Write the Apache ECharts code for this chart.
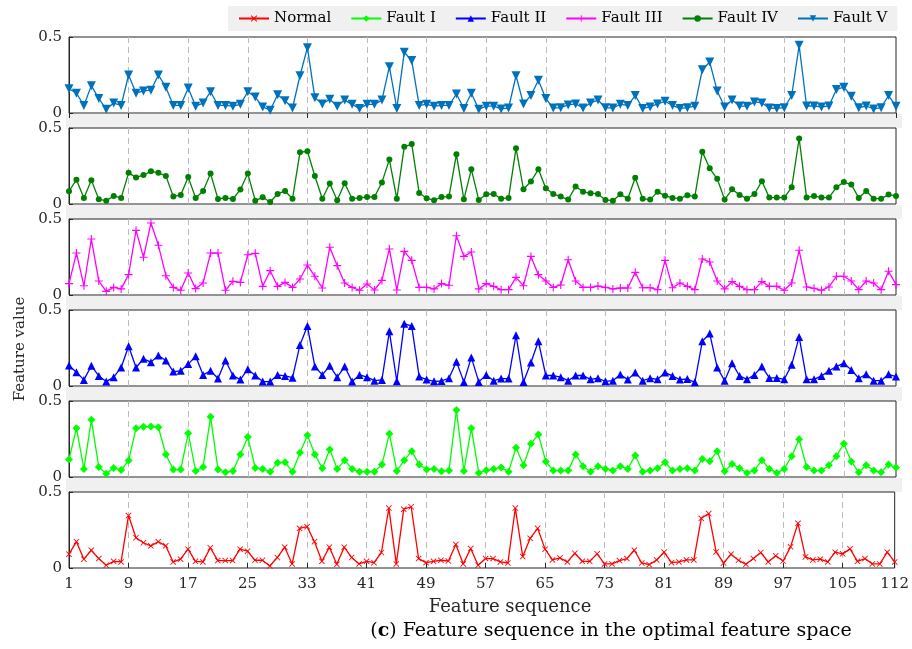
<!DOCTYPE html>
<html>
<head>
<meta charset="utf-8">
<script src="https://cdn.jsdelivr.net/npm/echarts@6/dist/echarts.min.js"></script>
<style>html,body{margin:0;padding:0;background:#fff;}#c{width:912px;height:649px;}</style>
</head>
<body>
<div id="c"></div>
<script>
// ---- data ----
const tickLabels = [1, 9, 17, 25, 33, 41, 49, 57, 65, 73, 81, 89, 97, 105, 112];
const categories = Array.from({length: 112}, (_, i) => String(i + 1));
const seriesNames = ['Normal', 'Fault I', 'Fault II', 'Fault III', 'Fault IV', 'Fault V'];

const normalA = [0.091,0.173,0.058,0.117,0.062,0.018,0.044,0.04,0.345,0.199,0.166,0.146,0.173,0.146,0.04,0.058,0.124,0.044,0.04,0.133,0.049,0.049,0.049,0.124,0.111,0.051,0.051,0.013,0.069,0.137,0.027,0.261,0.272,0.173,0.044,0.137,0.024,0.137,0.069,0.027,0.044,0.035,0.102,0.394,0.027,0.387,0.403,0.062,0.035,0.044,0.051,0.046,0.155,0.027,0.128,0.018,0.062];
const normalB = [0.062,0.04,0.033,0.394,0.075,0.195,0.261,0.124,0.053,0.066,0.04,0.097,0.044,0.044,0.093,0.027,0.027,0.049,0.062,0.117,0.033,0.022,0.053,0.104,0.035,0.04,0.053,0.053,0.327,0.358,0.106,0.033,0.091,0.051,0.024,0.062,0.102,0.04,0.08,0.046,0.139,0.294,0.073,0.053,0.058,0.04,0.104,0.093,0.126,0.044,0.062,0.027,0.027,0.104,0.04];

const fault1A = [0.115,0.321,0.053,0.376,0.066,0.022,0.06,0.046,0.108,0.321,0.33,0.332,0.327,0.148,0.049,0.049,0.288,0.04,0.066,0.396,0.049,0.031,0.04,0.148,0.263,0.06,0.053,0.035,0.093,0.097,0.035,0.159,0.274,0.148,0.058,0.181,0.053,0.111,0.053,0.035,0.035,0.035,0.082,0.285,0.04,0.111,0.17,0.082,0.049,0.053,0.038,0.042,0.44,0.04,0.321,0.027,0.044];
const fault1B = [0.053,0.062,0.035,0.192,0.077,0.219,0.279,0.102,0.042,0.042,0.042,0.148,0.071,0.035,0.071,0.053,0.042,0.071,0.053,0.142,0.035,0.042,0.058,0.097,0.042,0.053,0.058,0.042,0.119,0.104,0.17,0.038,0.086,0.058,0.027,0.042,0.111,0.053,0.027,0.053,0.137,0.248,0.066,0.042,0.042,0.077,0.137,0.219,0.102,0.031,0.077,0.042,0.031,0.082,0.062];

const fault2A = [0.135,0.091,0.04,0.133,0.066,0.029,0.058,0.122,0.261,0.122,0.179,0.157,0.201,0.168,0.095,0.1,0.144,0.195,0.073,0.1,0.049,0.168,0.069,0.042,0.111,0.069,0.029,0.029,0.073,0.066,0.055,0.27,0.394,0.128,0.073,0.133,0.058,0.128,0.029,0.073,0.058,0.035,0.04,0.36,0.031,0.41,0.394,0.062,0.042,0.031,0.033,0.051,0.159,0.027,0.188,0.027,0.073];
const fault2B = [0.035,0.049,0.049,0.334,0.027,0.155,0.294,0.069,0.069,0.058,0.035,0.069,0.069,0.044,0.051,0.031,0.035,0.075,0.042,0.088,0.035,0.051,0.044,0.088,0.066,0.042,0.046,0.024,0.294,0.345,0.122,0.035,0.15,0.066,0.044,0.073,0.128,0.053,0.053,0.044,0.139,0.323,0.044,0.044,0.066,0.1,0.128,0.15,0.106,0.051,0.077,0.035,0.035,0.077,0.062];

const fault3A = [0.075,0.276,0.061,0.368,0.092,0.024,0.05,0.04,0.134,0.425,0.248,0.474,0.327,0.127,0.05,0.031,0.145,0.042,0.079,0.276,0.276,0.031,0.09,0.083,0.265,0.274,0.057,0.16,0.057,0.083,0.05,0.105,0.197,0.123,0.046,0.314,0.193,0.079,0.05,0.031,0.072,0.033,0.096,0.303,0.033,0.287,0.228,0.05,0.05,0.04,0.075,0.064,0.39,0.254,0.283,0.04,0.075];
const fault3B = [0.057,0.035,0.035,0.116,0.061,0.254,0.134,0.092,0.05,0.066,0.232,0.092,0.05,0.05,0.059,0.05,0.04,0.046,0.046,0.149,0.048,0.048,0.035,0.228,0.048,0.079,0.057,0.035,0.237,0.217,0.092,0.04,0.088,0.057,0.035,0.035,0.088,0.057,0.057,0.031,0.079,0.294,0.053,0.044,0.031,0.053,0.123,0.123,0.092,0.035,0.092,0.079,0.035,0.156,0.068];

const fault4A = [0.084,0.16,0.04,0.157,0.031,0.022,0.053,0.04,0.205,0.175,0.19,0.215,0.205,0.185,0.049,0.06,0.177,0.04,0.086,0.2,0.033,0.04,0.033,0.095,0.2,0.022,0.044,0.013,0.066,0.086,0.035,0.34,0.347,0.184,0.035,0.135,0.024,0.137,0.035,0.04,0.046,0.046,0.142,0.292,0.035,0.376,0.394,0.073,0.038,0.024,0.046,0.049,0.327,0.031,0.228,0.027,0.064];
const fault4B = [0.066,0.035,0.04,0.367,0.097,0.148,0.228,0.104,0.066,0.049,0.029,0.115,0.08,0.071,0.066,0.027,0.022,0.064,0.035,0.173,0.035,0.029,0.08,0.055,0.04,0.035,0.058,0.049,0.343,0.235,0.166,0.029,0.097,0.06,0.035,0.066,0.15,0.042,0.042,0.042,0.11,0.431,0.042,0.053,0.042,0.042,0.11,0.144,0.128,0.04,0.086,0.035,0.035,0.062,0.053];

const fault5A = [0.16,0.13,0.05,0.18,0.095,0.025,0.065,0.05,0.25,0.13,0.145,0.15,0.25,0.17,0.05,0.05,0.165,0.045,0.065,0.14,0.05,0.05,0.045,0.057,0.14,0.105,0.04,0.018,0.12,0.08,0.033,0.245,0.43,0.10,0.06,0.09,0.045,0.085,0.057,0.03,0.057,0.057,0.085,0.305,0.03,0.40,0.345,0.05,0.057,0.045,0.05,0.05,0.125,0.03,0.13,0.025,0.045];
const fault5B = [0.045,0.027,0.033,0.245,0.06,0.115,0.215,0.095,0.033,0.035,0.053,0.06,0.033,0.066,0.085,0.035,0.033,0.057,0.05,0.115,0.03,0.04,0.06,0.077,0.05,0.03,0.035,0.045,0.285,0.335,0.145,0.04,0.085,0.046,0.045,0.073,0.066,0.033,0.03,0.035,0.115,0.445,0.046,0.046,0.04,0.046,0.155,0.17,0.11,0.035,0.046,0.027,0.035,0.115,0.045];

const normal = normalA.concat(normalB);
const fault1 = fault1A.concat(fault1B);
const fault2 = fault2A.concat(fault2B);
const fault3 = fault3A.concat(fault3B);
const fault4 = fault4A.concat(fault4B);
const fault5 = fault5A.concat(fault5B);

// ---- styling ----
const FONT = '"DejaVu Serif", "Liberation Serif", serif';
const X_SYMBOL = 'path://M0,1 L1,0 L5,4 L9,0 L10,1 L6,5 L10,9 L9,10 L5,6 L1,10 L0,9 L4,5 Z';
const PLUS_SYMBOL = 'path://M4.3,0 H5.7 V4.3 H10 V5.7 H5.7 V10 H4.3 V5.7 H0 V4.3 H4.3 Z';
const TRI_DOWN = 'path://M0,0 L10,0 L5,9 Z';

// panels top to bottom
const panels = [
  {name: 'Fault V',  data: fault5, color: '#0072BD', symbol: TRI_DOWN, size: 9},
  {name: 'Fault IV', data: fault4, color: '#008000', symbol: 'circle', size: 6},
  {name: 'Fault III',data: fault3, color: '#FF00FF', symbol: PLUS_SYMBOL, size: 8},
  {name: 'Fault II', data: fault2, color: '#0000FF', symbol: 'triangle', size: 8},
  {name: 'Fault I',  data: fault1, color: '#00FF00', symbol: 'diamond', size: 8},
  {name: 'Normal',   data: normal, color: '#FF0000', symbol: X_SYMBOL, size: 6}
];

const TOP0 = 37, STEP = 91, H = 76, LEFT = 69, W = 827;
const tickSet = new Set(tickLabels);
const tickFn = (idx) => tickSet.has(idx + 1);
const gridFn = (idx) => tickSet.has(idx + 1) && idx !== 0 && idx !== 111;

const grids = [], xAxes = [], yAxes = [], series = [];
panels.forEach((p, k) => {
  grids.push({left: LEFT, width: W, top: TOP0 + STEP * k, height: H, show: true,
    backgroundColor: '#ffffff', borderColor: '#262626', borderWidth: 1});
  xAxes.push({type: 'category', gridIndex: k, data: categories, boundaryGap: false,
    position: k === 0 ? 'top' : 'bottom',
    axisLine: {show: false},
    axisTick: {show: k === 0 || k === 5, inside: true, length: 5, interval: tickFn, lineStyle: {color: '#262626'}},
    axisLabel: {show: k === 5, interval: tickFn, fontSize: 15, color: '#262626', fontFamily: FONT, margin: 9},
    splitLine: {show: true, interval: gridFn, lineStyle: {color: '#bcbcbc', width: 1, type: [6, 4]}}
  });
  yAxes.push({type: 'value', gridIndex: k, min: 0, max: 0.5, interval: 0.5,
    axisLine: {show: true, lineStyle: {color: '#262626'}},
    axisTick: {show: true, inside: true, length: 4, lineStyle: {color: '#262626'}},
    axisLabel: {fontSize: 15, color: '#262626', fontFamily: FONT, margin: 7,
      formatter: v => (v === 0 ? '0' : String(v))},
    splitLine: {show: false}
  });
  series.push({name: p.name, type: 'line', xAxisIndex: k, yAxisIndex: k, data: p.data,
    symbol: p.symbol, symbolSize: p.size, showAllSymbol: true,
    lineStyle: {color: p.color, width: 1.3},
    itemStyle: {color: p.color},
    emphasis: {disabled: true}
  });
});

const graphics = [];
for (let k = 0; k < 5; k++) {
  graphics.push({type: 'rect', left: 66, top: TOP0 + STEP * k + H + 1, z: -10,
    shape: {width: 836, height: STEP - H - 1}, style: {fill: '#f0f0f0'}});
}
graphics.push({type: 'text', x: 20, y: 349, rotation: Math.PI / 2, z: 10,
  style: {text: 'Feature value', font: '15px ' + FONT, fill: '#262626',
    textAlign: 'center', textVerticalAlign: 'middle'}});
graphics.push({type: 'text', x: 510, y: 607,
  style: {text: 'Feature sequence', font: '18px ' + FONT, fill: '#262626',
    textAlign: 'center', textVerticalAlign: 'middle'}});
graphics.push({type: 'text', x: 611, y: 631,
  style: {text: '{b|(}{bb|c}{b|) Feature sequence in the optimal feature space}',
    textAlign: 'center', textVerticalAlign: 'middle',
    rich: {b: {font: '19px ' + FONT, fill: '#000'}, bb: {font: 'bold 19px ' + FONT, fill: '#000'}}}});

const chart = echarts.init(document.getElementById('c'), null, {renderer: 'canvas'});
chart.setOption({
  backgroundColor: '#ffffff',
  animation: false,
  textStyle: {fontFamily: FONT},
  legend: {
    data: seriesNames, left: 228, top: 6, padding: [5, 10, 5, 10],
    backgroundColor: '#f0f0f0', itemGap: 19, itemWidth: 30, itemHeight: 8,
    textStyle: {fontSize: 15, color: '#000', fontFamily: FONT}
  },
  grid: grids, xAxis: xAxes, yAxis: yAxes, series: series, graphic: graphics
});
</script>
</body>
</html>
